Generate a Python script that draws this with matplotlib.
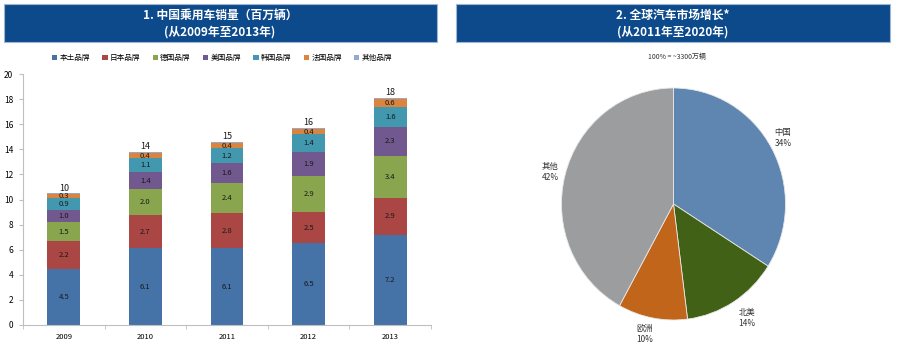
import matplotlib
matplotlib.use("Agg")
import matplotlib.pyplot as plt
from matplotlib.patches import Rectangle
import numpy as np

plt.rcParams['font.family'] = ['Noto Sans CJK SC', 'DejaVu Sans']

years = ['2009', '2010', '2011', '2012', '2013']
series_names = ['本土品牌', '日本品牌', '德国品牌', '美国品牌', '韩国品牌', '法国品牌', '其他品牌']
domestic = [4.5, 6.1, 6.1, 6.5, 7.2]
japan = [2.2, 2.7, 2.8, 2.5, 2.9]
germany = [1.5, 2.0, 2.4, 2.9, 3.4]
usa = [1.0, 1.4, 1.6, 1.9, 2.3]
korea = [0.9, 1.1, 1.2, 1.4, 1.6]
france = [0.3, 0.4, 0.4, 0.4, 0.6]
others = [0.1, 0.1, 0.1, 0.1, 0.1]
totals = [10, 14, 15, 16, 18]
series_colors = ['#4572a7', '#aa4643', '#89a54e', '#71588f', '#4198af', '#db843d', '#93a9cf']

pie_labels = ['中国', '北美', '欧洲', '其他']
pie_values = [34, 14, 10, 42]
pie_colors = ['#5f86b0', '#416117', '#c0651a', '#9b9d9f']

fig = plt.figure(figsize=(9, 3.55), dpi=100)
W, H = 900, 355

def fx(px): return px / W
def fy(py): return 1 - py / H

band = '#0d4a8c'
fig.patches.append(Rectangle((fx(4), fy(42)), fx(433), (42 - 4) / H, transform=fig.transFigure,
                             facecolor=band, edgecolor='#9fb6d3', lw=0.8, zorder=0))
fig.patches.append(Rectangle((fx(456), fy(42)), fx(434), (42 - 4) / H, transform=fig.transFigure,
                             facecolor=band, edgecolor='#9fb6d3', lw=0.8, zorder=0))
fig.text(fx(220), fy(15), '1. 中国乘用车销量（百万辆）', color='white', fontsize=8.5,
         fontweight='bold', ha='center', va='center')
fig.text(fx(220), fy(32), '(从2009年至2013年)', color='white', fontsize=8.5,
         fontweight='bold', ha='center', va='center')
fig.text(fx(673), fy(15), '2. 全球汽车市场增长*', color='white', fontsize=8.5,
         fontweight='bold', ha='center', va='center')
fig.text(fx(673), fy(32), '(从2011年至2020年)', color='white', fontsize=8.5,
         fontweight='bold', ha='center', va='center')

# Bar chart
ax = fig.add_axes([fx(23), fy(325), (431 - 23) / W, (325 - 74) / H])
data = [domestic, japan, germany, usa, korea, france, others]
x = np.arange(len(years))
bottom = np.zeros(len(years))
handles = []
for i, (vals, name, c) in enumerate(zip(data, series_names, series_colors)):
    vals = np.array(vals)
    b = ax.bar(x, vals, 0.4, bottom=bottom, color=c, label=name, zorder=2)
    handles.append(b)
    if i < 6:
        for xi, v, bt in zip(x, vals, bottom):
            ax.text(xi, bt + v / 2, f'{v:.1f}', ha='center', va='center', fontsize=5.5, color='#1a1a1a')
    bottom = bottom + vals
for xi, t, top in zip(x, totals, bottom):
    ax.text(xi, top + 0.05, str(t), ha='center', va='bottom', fontsize=6.5, color='#1a1a1a')

ax.set_xlim(-0.5, 4.5)
ax.set_ylim(0, 20)
ax.set_yticks(range(0, 21, 2))
ax.set_xticks(x)
ax.set_xticklabels(years)
ax.set_xticks(np.arange(-0.5, 5, 1), minor=True)
ax.tick_params(axis='x', which='major', length=0, labelsize=5.5, pad=6)
ax.tick_params(axis='x', which='minor', length=3, color='#bfbfbf')
ax.tick_params(axis='y', length=3, color='#bfbfbf', labelsize=6, pad=4)
for s in ['top', 'right']:
    ax.spines[s].set_visible(False)
for s in ['left', 'bottom']:
    ax.spines[s].set_color('#bfbfbf')
    ax.spines[s].set_linewidth(0.8)

fig.legend(handles=handles, labels=series_names, loc='center', bbox_to_anchor=(fx(222), fy(58)),
           ncol=7, fontsize=5.5, frameon=False, handlelength=0.7, handleheight=0.7,
           handletextpad=0.3, columnspacing=1.6)

# Pie chart (slightly elliptical as in the reference)
cx, cy, rx, ry = 673.5, 204, 112, 116
pax = fig.add_axes([fx(cx - rx), fy(cy + ry), 2 * rx / W, 2 * ry / H])
pax.pie(pie_values, colors=pie_colors, startangle=90, counterclock=False,
        wedgeprops=dict(edgecolor='#e8e8e8', linewidth=0.6))
pax.set_aspect('auto')
pax.set_xlim(-1, 1)
pax.set_ylim(-1, 1)

label_pos = [(783, 133), (747, 313), (645, 328), (550, 166)]
for (lx, ly), name, v in zip(label_pos, pie_labels, pie_values):
    fig.text(fx(lx), fy(ly), name, ha='center', va='center', fontsize=6, color='#333333')
    fig.text(fx(lx), fy(ly + 11), f'{v}%', ha='center', va='center', fontsize=6, color='#333333')

fig.text(fx(677), fy(57), '100% = ~3300万辆', ha='center', va='center', fontsize=5, color='#333333')

fig.savefig('out.png', dpi=100)
